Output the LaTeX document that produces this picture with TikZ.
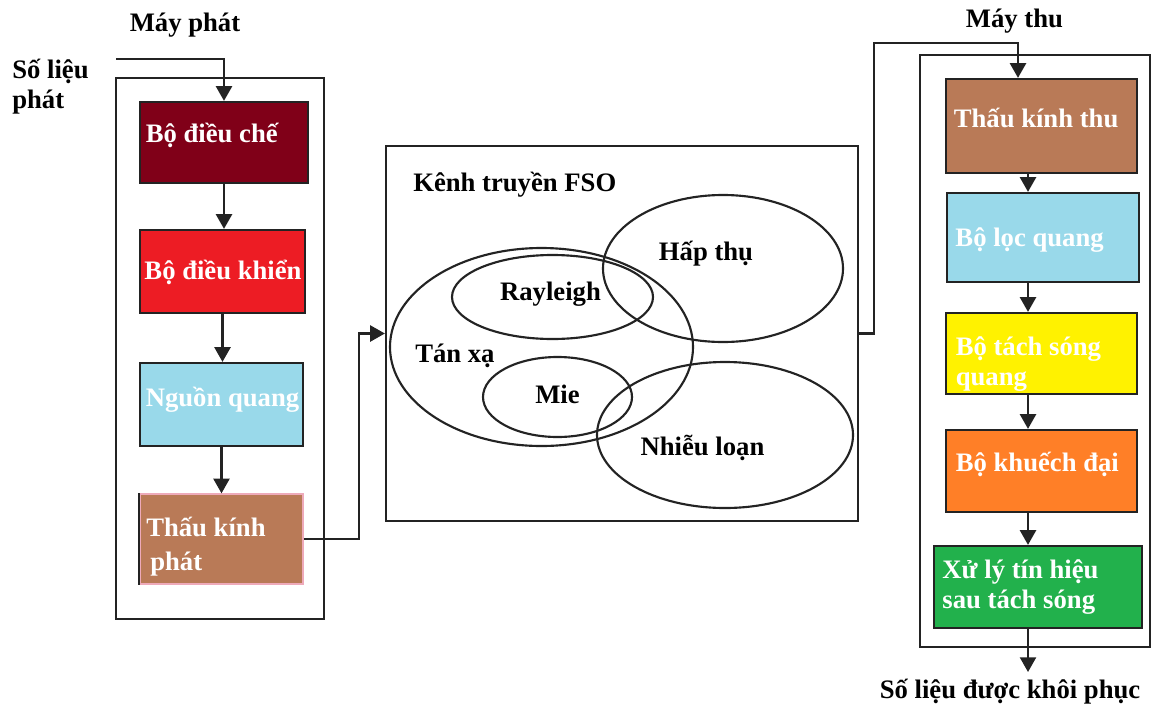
\documentclass[tikz,border=0pt]{standalone}
\usepackage{fontspec}
\setmainfont{Liberation Serif}
\usetikzlibrary{arrows.meta,shapes.geometric}
\definecolor{lc}{RGB}{35,35,35}
\definecolor{cMod}{RGB}{128,0,24}
\definecolor{cCtl}{RGB}{237,28,36}
\definecolor{cBlue}{RGB}{153,217,234}
\definecolor{cBrown}{RGB}{185,122,87}
\definecolor{cYellow}{RGB}{255,242,0}
\definecolor{cOrange}{RGB}{255,127,39}
\definecolor{cGreen}{RGB}{34,177,76}
\definecolor{cPink}{RGB}{238,170,186}
\begin{document}
\begin{tikzpicture}[x=0.75pt,y=-0.75pt,
  font=\fontsize{20}{22.5}\selectfont\bfseries,
  ln/.style={draw=lc, line width=1.7pt},
  arr/.style={ln, -{Triangle[length=11pt,width=12pt]}},
  frame/.style={draw=lc, line width=1.7pt, inner sep=0pt},
  blk/.style={draw=lc, line width=1.7pt, inner sep=0pt},
  txt/.style={anchor=west, text=white, inner sep=0pt, align=left},
  ell/.style={ellipse, draw=lc, line width=1.6pt, inner sep=0pt},
  lbl/.style={text=black, inner sep=0pt}]
\useasboundingbox (0,0) rectangle (1152,707);

% ---------- transmitter ----------
\node[frame, minimum width=156pt, minimum height=405.75pt] (tx) at (220,348.5) {};
\node[lbl, anchor=base] (mayphat) at (185,31) {Máy phát};
\node[lbl, anchor=base west, align=left, font=\fontsize{20}{22}\selectfont\bfseries] (solieu) at (12,108) {Số liệu\\phát};

\node[blk, fill=cMod, minimum width=126pt, minimum height=60.75pt,
  label={[txt, xshift=5pt, yshift=5pt]west:Bộ điều chế}] (dieuche) at (224,142.5) {};
\node[blk, fill=cCtl, minimum width=123.75pt, minimum height=62.25pt,
  label={[txt, xshift=4pt, yshift=-1pt]west:Bộ điều khiển}] (dieukhien) at (222.5,271.5) {};
\node[blk, fill=cBlue, minimum width=122.25pt, minimum height=62.25pt,
  label={[txt, xshift=5pt, yshift=3.4pt]west:Nguồn quang}] (nguon) at (221.5,404.5) {};
\node[draw=cPink, line width=1pt, inner sep=0pt, fill=cBrown, minimum width=122.25pt, minimum height=67.5pt,
  label={[txt, xshift=5pt, yshift=-5.6pt, font=\fontsize{20}{25.5}\selectfont\bfseries]west:{Thấu kính\\\hspace{3pt}phát}}] (tkphat) at (221.5,539) {};
\draw[ln] (tkphat.north west) -- (tkphat.south west);

\coordinate (in) at (116,59);
\draw[arr] (in) -| (dieuche.north);
\draw[arr] (dieuche.south) -- (dieuche.south |- dieukhien.north);
\draw[arr] (dieukhien.south) -- (dieukhien.south |- nguon.north);
\draw[arr] (nguon.south) -- (nguon.south |- tkphat.north);

% ---------- channel ----------
\node[frame, minimum width=354pt, minimum height=281.25pt] (kenh) at (622,333.5) {};
\node[lbl, anchor=base west] (kenhlbl) at (413,191) {Kênh truyền FSO};
\node[ell, minimum width=227.25pt, minimum height=148.5pt] (tanxa) at (541.5,347) {};
\node[ell, minimum width=150.75pt, minimum height=63pt] (rayleigh) at (552.5,297) {};
\node[ell, minimum width=111.75pt, minimum height=60pt] (mie) at (557.5,397) {};
\node[ell, minimum width=180pt, minimum height=110.25pt] (hapthu) at (723,268.5) {};
\node[ell, minimum width=192pt, minimum height=109.5pt] (nhieuloan) at (725,435) {};
\node[lbl, anchor=base] (hapthulbl) at (706,260) {Hấp thụ};
\node[lbl, anchor=base] (raylbl) at (550.5,300) {Rayleigh};
\node[lbl, anchor=base west] (tanxalbl) at (415,362) {Tán xạ};
\node[lbl, anchor=base] (mielbl) at (557.5,403) {Mie};
\node[lbl, anchor=base] (nllbl) at (702.5,455) {Nhiễu loạn};

\draw[arr] (tkphat.east) -- ++(55,0) |- (kenh.west);

% ---------- receiver ----------
\node[frame, minimum width=172.5pt, minimum height=444pt] (rx) at (1035,351) {};
\node[lbl, anchor=base] (maythu) at (1014.5,27) {Máy thu};

\node[blk, fill=cBrown, minimum width=143.25pt, minimum height=70.5pt,
  label={[txt, xshift=6.5pt, yshift=6pt]west:Thấu kính thu}] (tkthu) at (1041.5,126) {};
\node[blk, fill=cBlue, minimum width=144pt, minimum height=66.75pt,
  label={[txt, xshift=7pt, yshift=-2pt]west:Bộ lọc quang}] (boloc) at (1043,237.5) {};
\node[blk, fill=cYellow, minimum width=143.25pt, minimum height=60.75pt,
  label={[txt, xshift=8pt, yshift=-8pt]west:{Bộ tách sóng\\quang}}] (tachsong) at (1041.5,353.5) {};
\node[blk, fill=cOrange, minimum width=143.25pt, minimum height=61.5pt,
  label={[txt, xshift=8pt, yshift=5pt]west:Bộ khuếch đại}] (khuechdai) at (1041.5,471) {};
\node[blk, fill=cGreen, minimum width=156pt, minimum height=61.5pt,
  label={[txt, xshift=7pt, yshift=0pt]west:{Xử lý tín hiệu\\sau tách sóng}}] (xuly) at (1038,587) {};

\coordinate (rxin) at (1018,43);
\draw[arr] (kenh.east) -- ++(15,0) |- (rxin) -- (rxin |- tkthu.north);
\coordinate (rxc) at (1028,0);
\draw[arr] (tkthu.south -| rxc) -- (boloc.north -| rxc);
\draw[arr] (boloc.south -| rxc) -- (tachsong.north -| rxc);
\draw[arr] (tachsong.south -| rxc) -- (khuechdai.north -| rxc);
\draw[arr] (khuechdai.south -| rxc) -- (xuly.north -| rxc);
\coordinate (rxout) at (1028,672);
\draw[arr] (xuly.south -| rxc) -- (rxout);
\node[lbl, anchor=base] (kq) at (1010,698) {Số liệu được khôi phục};
\end{tikzpicture}
\end{document}
